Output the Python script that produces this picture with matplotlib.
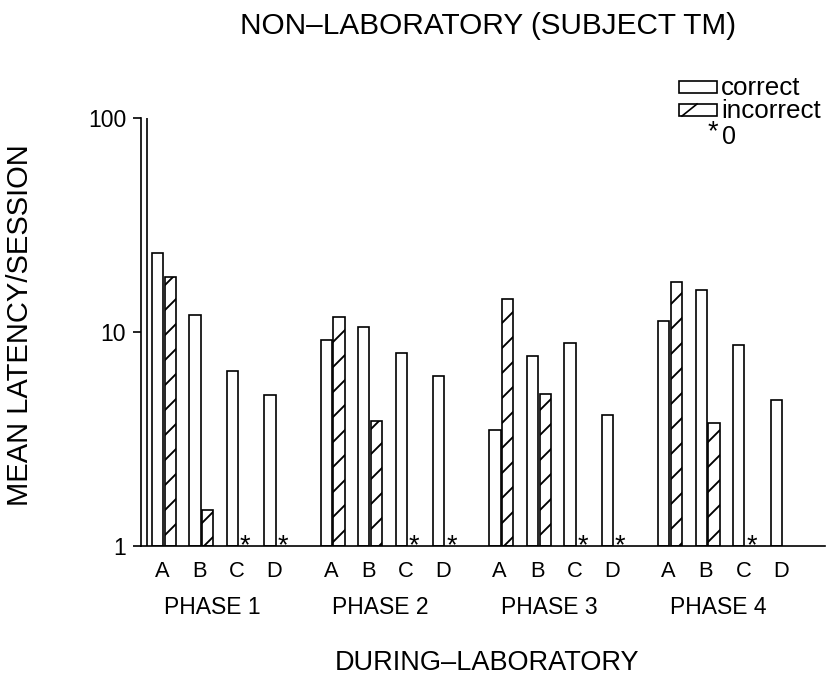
import numpy as np
import matplotlib
matplotlib.use("Agg")
import matplotlib.pyplot as plt
from matplotlib.patches import Rectangle
from matplotlib.lines import Line2D

# ---- data -------------------------------------------------------------
phases = ["PHASE 1", "PHASE 2", "PHASE 3", "PHASE 4"]
conditions = ["A", "B", "C", "D"]
# mean latency per session, one row per phase, columns A-D
correct = [
    [23.3, 12.0, 6.6, 5.1],
    [9.2, 10.6, 8.0, 6.2],
    [3.5, 7.7, 8.9, 4.1],
    [11.2, 15.7, 8.7, 4.8],
]
# 0 -> plotted as "*", nan -> nothing recorded
incorrect = [
    [18.1, 1.47, 0, 0],
    [11.8, 3.85, 0, 0],
    [14.2, 5.15, 0, 0],
    [17.2, 3.75, 0, np.nan],
]
y_ticks = [1, 10, 100]
y_tick_labels = ["1", "10", "100"]

title = "NON\u2013LABORATORY (SUBJECT TM)"
ylabel = "MEAN LATENCY/SESSION"
xlabel = "DURING\u2013LABORATORY"

# ---- style ------------------------------------------------------------
W, H, DPI = 836, 679, 150
plt.rcParams["font.family"] = ["Liberation Sans", "DejaVu Sans"]
plt.rcParams["hatch.linewidth"] = 0.9
plt.rcParams["hatch.color"] = "black"

bar_w = 0.30
pair_gap = 0.04
phase_step = 4.5
lw = 0.8

fig = plt.figure(figsize=(W / DPI, H / DPI), dpi=DPI)


def fx(px):
    return px / W


def fy(py):
    return 1 - py / H


ax = fig.add_axes([fx(140.75), fy(546), fx(825) - fx(140.75), fy(118) - fy(546)])
ax.set_yscale("log")
ax.set_ylim(1, 100)
ax.set_xlim(-0.3, 17.95)

tick_pos = []
for p, (c_row, i_row) in enumerate(zip(correct, incorrect)):
    for k, (c, inc) in enumerate(zip(c_row, i_row)):
        x0 = p * phase_step + k
        x1 = x0 + bar_w + pair_gap
        ax.bar(x0, c - 1, bottom=1, width=bar_w, align="edge",
               facecolor="white", edgecolor="black", linewidth=lw, zorder=2)
        if np.isnan(inc):
            pass
        elif inc == 0:
            ax.annotate("*", (x1 + bar_w / 2, 1), xytext=(0, -3.4),
                        textcoords="offset points", ha="center", va="baseline",
                        fontsize=13, zorder=3)
        else:
            ax.bar(x1, inc - 1, bottom=1, width=bar_w, align="edge",
                   facecolor="white", edgecolor="black", linewidth=lw,
                   hatch="//", zorder=2)
        tick_pos.append(x0 + 0.27)
    ax.text(p * phase_step + 1.6, -0.143, phases[p], transform=ax.get_xaxis_transform(),
            ha="center", va="center", fontsize=11)

ax.set_xticks(tick_pos, conditions * len(phases), fontsize=10.5)
ax.tick_params(axis="x", length=0, pad=7)
ax.set_yticks(y_ticks, y_tick_labels, fontsize=11)
ax.yaxis.set_minor_locator(matplotlib.ticker.NullLocator())
ax.tick_params(axis="y", direction="out", length=4, width=lw, pad=3)

for s in ("top", "right"):
    ax.spines[s].set_visible(False)
for s in ("left", "bottom"):
    ax.spines[s].set_linewidth(lw)
# doubled vertical axis rule
ax.axvline(-0.14, color="black", linewidth=lw, zorder=1)

# ---- texts ------------------------------------------------------------
fig.text(fx(488), fy(26), title, ha="center", va="center", fontsize=14.3)
fig.text(fx(20), fy(325), ylabel, ha="center", va="center", rotation=90, fontsize=14)
fig.text(fx(487), fy(663), xlabel, ha="center", va="center", fontsize=13)

# ---- legend -----------------------------------------------------------
box_l, box_r = 679, 717
fig.add_artist(Rectangle((fx(box_l), fy(93)), fx(box_r) - fx(box_l), fy(81) - fy(93),
                         transform=fig.transFigure, facecolor="white",
                         edgecolor="black", linewidth=lw))
fig.add_artist(Rectangle((fx(box_l), fy(116)), fx(box_r) - fx(box_l), fy(104) - fy(116),
                         transform=fig.transFigure, facecolor="white",
                         edgecolor="black", linewidth=lw))
fig.add_artist(Line2D([fx(box_l + 3), fx(box_l + 18)], [fy(116), fy(104)],
                      transform=fig.transFigure, color="black", linewidth=lw))
fig.text(fx(721), fy(88), "correct", ha="left", va="center", fontsize=12.5)
fig.text(fx(721), fy(111), "incorrect", ha="left", va="center", fontsize=12.5)
fig.text(fx(713), fy(132), "*", ha="center", va="center", fontsize=13)
fig.text(fx(729), fy(137), "0", ha="center", va="center", fontsize=12)

fig.savefig("out.png", dpi=DPI, facecolor="white")
